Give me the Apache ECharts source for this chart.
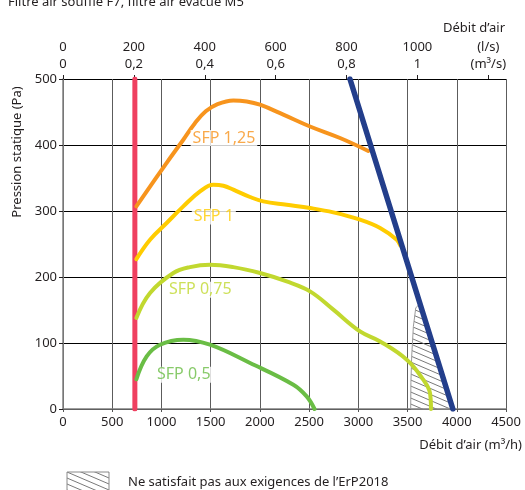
<!DOCTYPE html>
<html><head><meta charset="utf-8">
<script src="https://cdn.jsdelivr.net/npm/echarts@6/dist/echarts.min.js"></script>
<style>html,body{margin:0;padding:0;background:#fff}#c{width:525px;height:490px}</style>
</head><body><div id="c"></div>
<script>
// ---- data (x: m³/h, y: Pa) ----
const sfp125 = [[745,307],[1053,373],[1222,408],[1340,433],[1450,451],[1570,462],[1730,467.6],[1866,466],[2001,461],[2238,446],[2509,428],[2814,410.6],[3101,391]];
const sfp1 = [[745,227],[884,256.5],[1053,281.8],[1222,307],[1392,329.7],[1527,339.8],[1629,338.3],[1730,332.3],[1900,321.2],[2035,314.6],[2272,309.5],[2509,304.5],[2746,297.9],[3017,286.8],[3221,274.2],[3390,256.5],[3425,248]];
const sfp075 = [[745,138],[884,175.8],[1121,206],[1290,215],[1493,218.6],[1730,215],[2001,206],[2272,193.3],[2509,178.2],[2746,150.5],[3017,117.6],[3221,102.4],[3492,74.7],[3660,44.4],[3728,24.2],[3738,0]];
const sfp05 = [[745,45],[850,79.7],[985,97.4],[1222,105],[1493,97.4],[1900,69.7],[2340,36.8],[2475,19.1],[2555,0]];
const minFlow = [[730,0],[730,500]];
const maxFlow = [[2915,500],[3960,0]];
const hatchX = [3532,3534,3542,3559,3583,3626,3960];
const hatchY = [0,40,80,125,153,160,0];
const sfpNames = ['SFP 1,25','SFP 1','SFP 0,75','SFP 0,5'];
const sfpLabelPos = [[1635,410.6],[1532,291.8],[1395,180.8],[1227,52]];
const topTicksLs = [0,200,400,600,800,1000,1200];
const topRow1 = ['0','200','400','600','800','1000','(l/s)'];
const topRow2 = ['0','0,2','0,4','0,6','0,8','1','(m³/s)'];
const titleText = 'Filtre air soufflé F7, filtre air évacué M5';
const legendText = 'Ne satisfait pas aux exigences de l\u2019ErP2018';

// ---- styles ----
const FONT = '"Noto Sans", sans-serif';
const TXT = '#231f20';
const sfpColors = ['#f7941d','#ffcc00','#c1d82f','#6abd45'];

function makeHatch(){
  const w=14,h=6;
  const c=document.createElement('canvas'); c.width=w; c.height=h;
  const g=c.getContext('2d');
  g.strokeStyle='#6a6a6a'; g.lineWidth=0.9;
  for (let k=-1;k<=1;k++){
    g.beginPath(); g.moveTo(-2, (h/w)*(-2)+k*h); g.lineTo(w+2,(h/w)*(w+2)+k*h); g.stroke();
  }
  return c;
}
const hatch = makeHatch();

const chart = echarts.init(document.getElementById('c'), null, {renderer:'canvas'});
const lineSeries = (data, color, width, z, smooth) => ({
  type:'line', data, smooth:smooth, symbol:'none', silent:true, z,
  lineStyle:{color, width, cap:'round'}
});

chart.setOption({
  animation:false,
  backgroundColor:'#fff',
  textStyle:{fontFamily:FONT},
  grid:{left:63, right:19, top:79, bottom:81},
  xAxis:[{
    type:'value', min:0, max:4500, interval:500, position:'bottom',
    axisLine:{show:true, lineStyle:{color:'#808080', width:1.5}},
    axisTick:{show:true, length:3, lineStyle:{color:'#555'}},
    axisLabel:{color:TXT, fontSize:13, fontFamily:FONT, margin:7, formatter:(v)=>String(v)},
    splitLine:{show:true, lineStyle:{color:'#5c5c5c', width:1}}
  },{
    type:'value', min:0, max:1250, position:'top',
    axisLine:{show:false},
    axisTick:{show:true, length:4, customValues:topTicksLs, lineStyle:{color:TXT}},
    axisLabel:{show:true, customValues:topTicksLs, color:TXT, fontSize:13, fontFamily:FONT, margin:6, lineHeight:17,
      formatter:(v)=>{const i=topTicksLs.indexOf(v); return i<0?'':topRow1[i]+'\n'+topRow2[i];}},
    splitLine:{show:false}
  }],
  yAxis:{
    type:'value', min:0, max:500, interval:100,
    axisLine:{show:true, lineStyle:{color:'#808080', width:1.5}},
    axisTick:{show:true, length:4, lineStyle:{color:TXT}},
    axisLabel:{color:TXT, fontSize:13, fontFamily:FONT, margin:6, formatter:(v)=>String(v)},
    splitLine:{show:true, lineStyle:{color:'#000', width:1}}
  },
  series:[
    {type:'custom', silent:true, z:1, data:[[0,0]],
     renderItem:(params, api)=>{
       const pts = hatchX.map((x,i)=>api.coord([x,hatchY[i]]));
       return {type:'polygon', shape:{points:pts}, style:{fill:{image:hatch, repeat:'repeat'}, stroke:'#9a9a9a', lineWidth:1}};
     }},
    lineSeries(minFlow, '#ef4060', 5, 3, false),
    lineSeries(sfp125, sfpColors[0], 4, 4, 0.4),
    lineSeries(sfp1, sfpColors[1], 4, 4, 0.4),
    lineSeries(sfp075, sfpColors[2], 4, 4, 0.4),
    lineSeries(sfp05, sfpColors[3], 4, 4, 0.4),
    lineSeries(maxFlow, '#233e8b', 5.5, 5, false),
    {type:'scatter', symbolSize:0, silent:true, z:6,
     data: sfpLabelPos.map((p,i)=>({value:p, name:sfpNames[i],
        label:{color:sfpColors[i]}})),
     label:{show:true, position:'inside', formatter:(p)=>p.name, fontSize:16, fontFamily:FONT,
        backgroundColor:'#fff', padding:[0,2]}}
  ],
  graphic:[
    {type:'text', x:8, y:2, style:{text:titleText, font:'13px '+FONT, fill:TXT, align:'left', verticalAlign:'middle'}},
    {type:'text', x:505, y:28, style:{text:'Débit d\u2019air', font:'13px '+FONT, fill:TXT, align:'right', verticalAlign:'middle'}},
    {type:'text', x:522, y:445, style:{text:'Débit d\u2019air (m³/h)', font:'13px '+FONT, fill:TXT, align:'right', verticalAlign:'middle'}},
    {type:'text', x:17, y:152, rotation:Math.PI/2, style:{text:'Pression statique (Pa)', font:'13px '+FONT, fill:TXT, align:'center', verticalAlign:'middle'}},
    {type:'rect', x:67, y:472, shape:{width:42, height:20}, style:{fill:{image:hatch, repeat:'repeat'}, stroke:'#8a8a8a', lineWidth:1}},
    {type:'text', x:128, y:482, style:{text:legendText, font:'13px '+FONT, fill:TXT, align:'left', verticalAlign:'middle'}}
  ]
});
</script></body></html>
